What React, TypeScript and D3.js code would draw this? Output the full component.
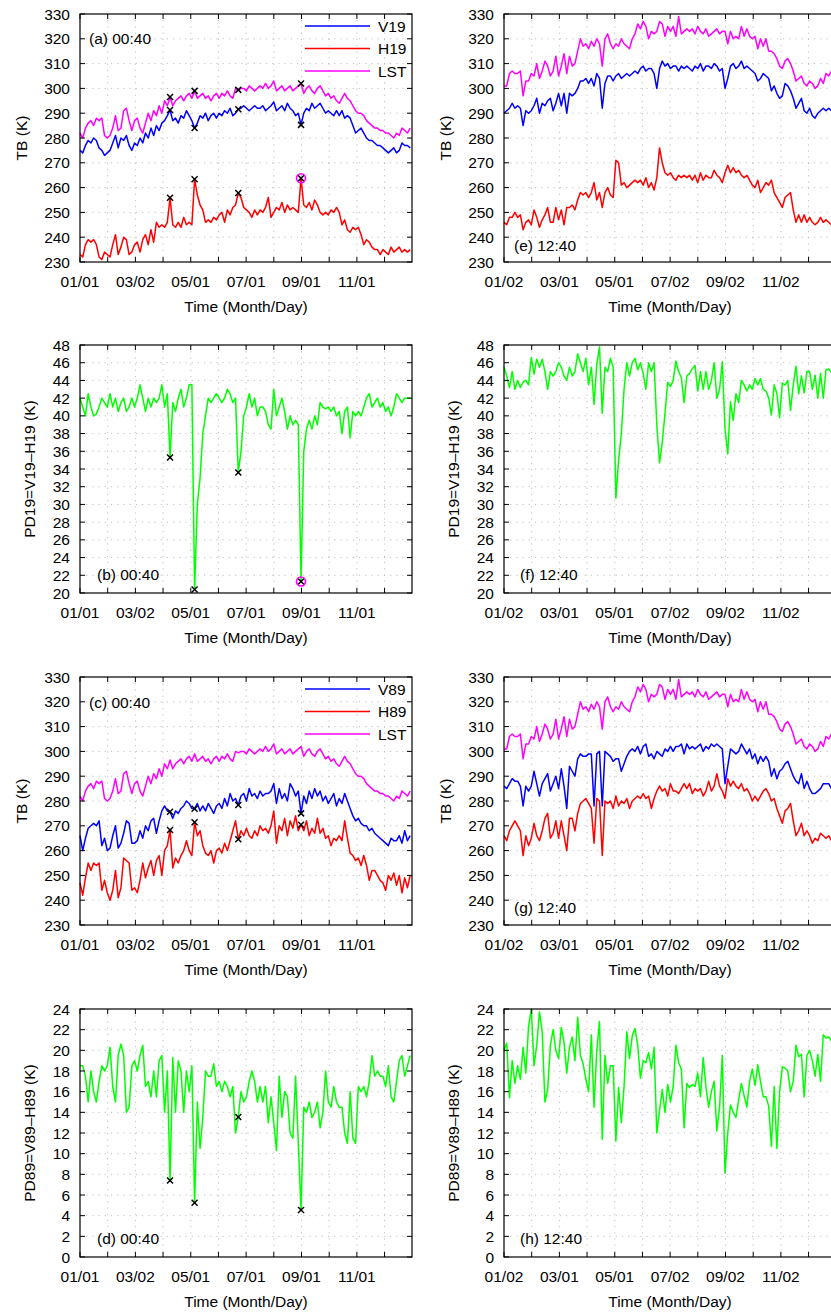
import React from 'react';
import * as d3 from 'd3';

// sampling: every third day of the year
const days = d3.range(0, 364, 3);
const eventDays = [99, 126, 174, 243];
const circleDay = 243;
const tickDays = d3.range(12).map(k => k * 30.44);
const xLabels0040 = ['01/01', '03/02', '05/01', '07/01', '09/01', '11/01'];
const xLabels1240 = ['01/02', '03/01', '05/01', '07/02', '09/02', '11/02'];
const tbTicks = d3.range(230, 331, 10);
const pd19Ticks = d3.range(20, 49, 2);
const pd89Ticks = d3.range(0, 25, 2);

// 00:40 overpass
const lst0040 = [
  282, 280, 284, 286, 287, 285, 288, 287, 288, 281,
  280, 281, 284, 289, 283, 284, 291, 292, 287, 283,
  287, 288, 284, 282, 286, 290, 287, 291, 289, 293,
  290, 295, 293, 296.5, 293, 295, 296, 297, 295, 297,
  298, 296, 299, 296, 297, 298, 296, 297, 295, 297,
  298, 296, 298, 297, 299, 297, 296, 300, 299.4, 300,
  300, 299, 301, 300, 299, 300, 301, 300, 302, 300,
  301, 303, 299, 300, 301, 299, 300, 301, 299, 300,
  301, 302, 298, 300, 301, 299, 298, 300, 301, 299,
  297, 298, 296, 297, 295, 294, 296, 298, 296, 295,
  293, 291, 290, 290, 289, 287, 286, 285, 284, 284,
  283, 283, 282, 282, 281, 280, 282, 281, 284, 283,
  282, 284,
];
const v19_0040 = [
  275, 274, 277, 279, 278, 280, 279, 276, 275, 273,
  274, 275, 278, 281, 276, 280, 279, 281, 277, 275,
  278, 277, 280, 278, 282, 280, 284, 281, 285, 283,
  286, 287, 289, 291.3, 287, 288, 286, 289, 288, 291,
  289, 287, 284, 286, 289, 288, 290, 287, 289, 290,
  288, 290, 289, 291, 290, 292, 289, 290, 291.6, 292,
  293, 292, 291, 292, 293, 292, 292, 293, 291, 292,
  293, 294.5, 291, 292, 293, 291, 294, 292, 291, 289,
  290, 285.3, 290, 292, 291, 294, 292, 293, 294, 292,
  290, 291, 290, 289, 291, 289, 291, 288, 289, 288,
  285, 282, 283, 284, 282, 280, 279, 279, 278, 277,
  277, 276, 275, 274, 275, 276, 274, 275, 278, 277,
  277, 276,
];
const h19_0040 = [
  233, 232, 237, 239, 238, 239, 237, 232, 231, 234,
  233, 232, 237, 241, 233, 236, 240, 239, 233, 234,
  237, 238, 234, 239, 241, 237, 243, 238, 246, 244,
  245, 244, 246, 255.9, 245, 244, 246, 244, 248, 245,
  246, 245, 263.4, 257, 253, 251, 246, 247, 246, 248,
  247, 249, 250, 246, 251, 249, 252, 253, 257.8, 256,
  252, 251, 250, 248, 251, 249, 251, 250, 252, 256,
  248, 250, 252, 251, 254, 250, 253, 251, 252, 251,
  250, 263.8, 253, 252, 254, 251, 255, 253, 250, 249,
  250, 249, 251, 250, 252, 250, 245, 247, 243, 242,
  244, 243, 244, 241, 237, 239, 238, 236, 235, 235,
  233, 235, 234, 233, 236, 234, 235, 236, 234, 235,
  234, 235,
];
const pd19_0040 = [
  42, 41, 40, 42.5, 41, 40, 40.2, 41, 42, 41.5,
  41, 42.5, 41, 42, 40.5, 41.5, 42, 40.5, 41, 42,
  41, 42, 43.5, 42, 40.5, 42, 41, 42, 41.5, 42,
  43.5, 41, 42.5, 35.3, 41.5, 40.5, 42, 43, 41, 42,
  43.5, 43.5, 20.4, 30, 33, 38, 40, 42, 41.5, 42,
  42.5, 42, 41.5, 42, 43, 42.5, 41.5, 42, 33.6, 36,
  40, 41, 42.5, 41, 42, 40, 41, 41, 40.5, 39,
  38.5, 43, 40, 41, 42, 40.5, 38.5, 40, 39, 39.5,
  39, 21.3, 36, 38.5, 39.5, 38.5, 40, 39, 41.5, 41,
  40.8, 41, 40.5, 41, 40, 40.5, 38, 40.5, 41, 37.5,
  40.5, 40, 40.5, 40, 41, 42, 42.5, 41, 41.5, 42,
  41, 41.5, 40.5, 41, 40, 41, 42.5, 42, 41.5, 42,
  42, 42,
];
const v89_0040 = [
  266, 260, 265, 269, 270, 271, 270, 272, 262, 265,
  260, 261, 266, 270, 261, 263, 267, 272, 271, 263,
  263, 264, 268, 265, 270, 268, 272, 273, 267, 272,
  276, 278, 276, 275.7, 273, 276, 275, 277, 278, 280,
  279, 277, 276.9, 279, 276, 278, 276, 279, 277, 275,
  278, 279, 277, 281, 278, 283, 280, 281, 278.4, 282,
  283, 280, 285, 282, 283, 281, 284, 282, 283, 283,
  284, 287, 279, 285, 281, 283, 280, 287, 285, 282,
  284, 275, 282, 279, 284, 281, 285, 282, 284, 280,
  282, 279, 281, 283, 278, 281, 279, 283, 280, 277,
  274, 272, 273, 271, 270, 270, 268, 269, 267, 266,
  265, 264, 263, 262, 265, 264, 264, 266, 263, 268,
  264, 266,
];
const h89_0040 = [
  247, 242, 249, 255, 252, 255, 254, 255, 244, 248,
  243, 240, 244, 252, 241, 245, 257, 256, 255, 244,
  245, 243, 248, 255, 249, 253, 256, 250, 256, 258,
  250, 260, 262, 268.3, 253, 257, 255, 258, 260, 264,
  260, 258, 271.4, 266, 268, 262, 259, 258, 260, 255,
  260, 261, 259, 263, 260, 264, 268, 272, 264.6, 268,
  266, 269, 266, 265, 268, 266, 270, 268, 269, 267,
  270, 276, 263, 270, 268, 273, 266, 272, 269, 274,
  268, 270.4, 268, 272, 266, 269, 267, 273, 267, 269,
  265, 266, 262, 265, 264, 266, 264, 272, 265, 259,
  258, 256, 257, 254, 258, 254, 248, 252, 252, 250,
  248, 247, 244, 250, 248, 251, 246, 250, 243, 249,
  245, 250,
];
const pd89_0040 = [
  18.5, 18.5, 17.5, 15, 18, 16, 15, 17, 18.5, 18,
  18.5, 20.3, 16.5, 15, 19.5, 20.6, 19.5, 14, 14.5, 18.5,
  19, 18, 19.5, 20.5, 16.5, 17, 15.5, 18, 15.5, 19,
  19.5, 14, 18, 7.4, 19.3, 14, 19, 18, 14, 18,
  16, 18.5, 5.25, 15, 10.5, 13.5, 18, 17.5, 17.5, 18.7,
  16.5, 17, 16, 17, 16.5, 15.5, 16.5, 12, 13.55, 16,
  15, 15.5, 17, 18, 17, 15, 16.5, 15, 16.5, 13,
  15.5, 13, 10.3, 17.5, 13.5, 16, 15.5, 12, 11.5, 17.5,
  11, 4.55, 14.5, 14, 15, 13.5, 14, 15, 12.5, 14,
  18, 15, 14.5, 16.5, 15, 14.5, 14.5, 12, 11, 16,
  11.5, 11, 16.5, 16, 16.5, 15.5, 17, 19.5, 17.5, 18,
  17.5, 17.5, 16.5, 18.5, 15.5, 15, 17, 19, 19.5, 17.5,
  18.5, 19.5,
];

// 12:40 overpass
const lst1240 = [
  301, 301, 306, 307, 306, 306, 307, 297, 303, 303,
  306, 305, 310, 304, 307, 311, 309, 305, 307, 313,
  305, 309, 314, 306, 313, 309, 310, 315, 320, 317,
  318, 316, 319, 317, 320, 318, 309, 320, 322, 318,
  316, 318, 317, 320, 318, 317, 316, 320, 322, 326,
  324, 327, 325, 320, 323, 322, 323, 327, 326, 321,
  325, 323, 325, 321, 329, 322, 323, 324, 323, 324,
  322, 325, 323, 322, 324, 321, 322, 323, 324, 322,
  323, 323, 318, 323, 320, 321, 320, 325, 321, 324,
  321, 320, 321, 316, 320, 317, 320, 315, 315, 314,
  312, 309, 308, 311, 312, 310, 307, 303, 304, 305,
  302, 301, 303, 302, 300, 301, 304, 302, 306, 305,
  307, 306,
];
const v19_1240 = [
  290, 291, 292, 294, 292, 293, 292, 285, 291, 290,
  291, 293, 296, 290, 294, 293, 295, 296, 291, 294,
  298, 293, 298, 290, 298, 297, 298, 300, 303, 303,
  304, 302, 304, 301, 306, 304, 292, 302, 305, 305,
  303, 305, 306, 304, 305, 306, 305, 306, 307, 306,
  308, 309, 307, 308, 308, 306, 300, 308, 311, 309,
  310, 308, 309, 309, 307, 309, 308, 309, 308, 307,
  309, 308, 310, 307, 309, 309, 308, 310, 309, 307,
  308, 300, 304, 309, 310, 308, 309, 311, 308, 309,
  308, 307, 306, 303, 304, 306, 305, 304, 299, 301,
  298, 296, 297, 302, 301, 299, 296, 292, 294, 296,
  291, 290, 292, 289, 288, 290, 291, 292, 291, 292,
  291, 291,
];
const h19_1240 = [
  246, 245, 248, 248, 250, 248, 249, 243, 246, 247,
  245, 251, 248, 244, 247, 249, 252, 246, 246, 252,
  247, 251, 245, 252, 252, 253, 251, 255, 258, 257,
  258, 256, 258, 262, 255, 258, 252, 258, 260, 257,
  256, 271, 270, 261, 262, 260, 261, 262, 263, 262,
  263, 261, 264, 260, 262, 259, 264, 276, 270, 266,
  265, 266, 264, 263, 265, 264, 265, 264, 265, 263,
  265, 262, 266, 263, 265, 264, 264, 267, 265, 264,
  262, 266, 269, 266, 268, 266, 267, 265, 264, 265,
  263, 261, 260, 263, 258, 260, 262, 261, 263, 258,
  256, 254, 252, 256, 257, 258, 251, 246, 249, 246,
  249, 246, 248, 246, 245, 246, 248, 246, 247, 246,
  245, 246,
];
const pd19_1240 = [
  45.5, 44.5, 43.2, 45, 43, 44, 43.2, 43.8, 44, 43.5,
  46.6, 44.7, 46.4, 45.5, 46.4, 45, 43, 45, 44.5, 45,
  46, 45.5, 44.5, 44, 45.5, 44.5, 45, 47, 46, 45,
  46.5, 43.5, 45.5, 41.3, 45.8, 47.8, 40.3, 45.5, 45, 46.5,
  45.5, 30.7, 35, 38, 43, 46, 44.5, 46, 46.5, 45.2,
  46, 44.8, 43, 46, 45, 46, 39, 34.7, 37, 40.3,
  43.8, 43.3, 44, 46.2, 45, 44.3, 41.5, 44.5, 44.8, 45.3,
  45.7, 42.8, 45, 43, 45, 43, 44, 46, 42, 43,
  46.1, 38.5, 35.7, 41.6, 39.5, 42.5, 41.5, 44, 43.5, 42.8,
  43.5, 43, 44.2, 43.5, 44.2, 43, 42.8, 42, 40.1, 43.5,
  42.5, 39.8, 43.7, 43.5, 44, 40.6, 43.5, 45.6, 42.5, 44.5,
  42.6, 45, 45, 43, 44.6, 42, 44.8, 42, 45.2, 45.3,
  44.9, 45,
];
const v89_1240 = [
  286, 285, 287, 289, 288, 288, 286, 278, 286, 284,
  286, 292, 287, 282, 287, 289, 291, 284, 287, 290,
  285, 293, 286, 277, 294, 292, 290, 297, 299, 298,
  298, 299, 299, 278, 299, 300, 278, 300, 299, 298,
  296, 297, 297, 292, 295, 298, 300, 301, 300, 302,
  299, 302, 303, 298, 299, 297, 300, 299, 298, 301,
  300, 302, 300, 302, 302, 303, 299, 303, 301, 302,
  301, 302, 303, 300, 302, 301, 303, 302, 303, 302,
  301, 287, 294, 301, 300, 299, 300, 303, 301, 299,
  301, 297, 299, 295, 298, 296, 298, 296, 290, 293,
  289, 292, 293, 295, 296, 293, 290, 288, 287, 291,
  285, 288, 285, 283, 283, 284, 285, 287, 287, 287,
  285, 286,
];
const h89_1240 = [
  266, 264, 268, 270, 272, 270, 268, 258, 266, 262,
  265, 271, 266, 264, 268, 273, 275, 265, 267, 272,
  265, 272, 266, 260, 273, 273, 268, 275, 279, 280,
  281, 279, 277, 263, 281, 280, 258, 280, 279, 280,
  277, 282, 278, 280, 279, 281, 277, 280, 281, 282,
  281, 283, 281, 282, 277, 281, 284, 286, 284, 285,
  282, 287, 284, 284, 283, 285, 287, 285, 287, 283,
  285, 284, 285, 282, 284, 288, 284, 286, 291, 286,
  284, 281, 289, 286, 288, 286, 285, 287, 284, 285,
  283, 280, 282, 280, 282, 284, 285, 283, 280, 281,
  277, 274, 271, 276, 277, 279, 272, 266, 268, 271,
  266, 268, 266, 263, 265, 264, 267, 266, 265, 266,
  264, 265,
];
const pd89_1240 = [
  20, 20.7, 15.4, 19, 16.8, 18.5, 17.2, 20.3, 17.8, 22.3,
  24, 18.5, 20.5, 23.7, 21.8, 15, 16.2, 20.5, 22, 20,
  19.2, 22.2, 20.8, 17.8, 20.3, 21.3, 19, 23.2, 19.5, 18.7,
  17.2, 16, 21.5, 14.5, 20, 22.8, 11.4, 19.5, 16.8, 18.5,
  18.5, 11.2, 16.4, 13, 16.5, 21.8, 19.2, 21.4, 22.1, 20.5,
  17.3, 19, 18.8, 19.8, 18.2, 20.3, 12, 14.2, 16.2, 14,
  16.7, 15, 16.5, 20.5, 18.8, 18.2, 12.5, 16.8, 16.4, 16.7,
  16.5, 17.8, 15.5, 19.3, 16.5, 14.5, 16, 17, 12.2, 14.5,
  19.5, 8.1, 12, 14.7, 14, 13.5, 15.2, 16.8, 15.6, 14.5,
  17, 18.2, 16.6, 18.6, 17, 15.5, 15.5, 14.6, 10.7, 16.5,
  10.5, 16, 18.4, 18.3, 18, 16, 17, 20.5, 19.4, 19.6,
  15.5, 19.5, 20, 19, 17.5, 19.6, 17, 21.5, 21.2, 21.3,
  20.9, 21,
];

const BLUE = '#0000ff';
const RED = '#ff0000';
const MAGENTA = '#ff00ff';
const GREEN = '#00ff00';
const FONT = '"Liberation Sans", Arial, Helvetica, sans-serif';
const PW = 332;
const PH = 248;

type Series = { values: number[]; color: string };
type PanelProps = {
  left: number;
  top: number;
  yDomain: [number, number];
  yTicks: number[];
  yTitle: string;
  yTitleX: number;
  series: Series[];
  crossed?: number[][];
  circled?: number[];
  legend?: { name: string; color: string }[];
  label: string;
  labelX: number;
  labelY: number;
  xLabels: string[];
};

const Panel: React.FC<PanelProps> = ({
  left, top, yDomain, yTicks, yTitle, yTitleX, series, crossed = [], circled,
  legend, label, labelX, labelY, xLabels,
}) => {
  const x = d3.scaleLinear().domain([0, 365]).range([left, left + PW]);
  const y = d3.scaleLinear().domain(yDomain).range([top + PH, top]);
  const line = d3.line<number>().x((_, i) => x(days[i])).y(d => y(d));
  const bottom = top + PH;
  const right = left + PW;
  const ci = days.indexOf(circleDay);

  return (
    <g fontFamily={FONT} fontSize={15.5} fill="#000">
      {/* grid */}
      {tickDays.slice(1).map((d, i) => (
        <line key={'gx' + i} x1={x(d)} x2={x(d)} y1={top} y2={bottom}
          stroke="#b8b8b8" strokeWidth={0.9} strokeDasharray="1.2,5" />
      ))}
      {yTicks.slice(1, -1).map(t => (
        <line key={'gy' + t} x1={left} x2={right} y1={y(t)} y2={y(t)}
          stroke="#b8b8b8" strokeWidth={0.9} strokeDasharray="1.2,5" />
      ))}

      {/* series */}
      {series.map((s, k) => (
        <path key={'s' + k} d={line(s.values) || ''} fill="none" stroke={s.color}
          strokeWidth={1.5} strokeLinejoin="round" />
      ))}

      {/* event markers */}
      {crossed.map((vals, k) =>
        eventDays.map(d => {
          const cx = x(d);
          const cy = y(vals[days.indexOf(d)]);
          return (
            <g key={'c' + k + '_' + d} stroke="#000" strokeWidth={1.5}>
              <line x1={cx - 3} x2={cx + 3} y1={cy - 3} y2={cy + 3} />
              <line x1={cx - 3} x2={cx + 3} y1={cy + 3} y2={cy - 3} />
            </g>
          );
        })
      )}
      {circled && (
        <circle cx={x(circleDay)} cy={y(circled[ci])} r={4.5} fill="none"
          stroke={MAGENTA} strokeWidth={1.6} />
      )}

      {/* frame */}
      <rect x={left} y={top} width={PW} height={PH} fill="none" stroke="#000" strokeWidth={1.2} />

      {/* x ticks */}
      {tickDays.map((d, i) => (
        <g key={'tx' + i} stroke="#000" strokeWidth={1}>
          <line x1={x(d)} x2={x(d)} y1={bottom} y2={bottom - 5} />
          <line x1={x(d)} x2={x(d)} y1={top} y2={top + 5} />
        </g>
      ))}
      {xLabels.map((lab, i) => (
        <text key={'lx' + i} x={x(tickDays[i * 2])} y={bottom + 25} textAnchor="middle">{lab}</text>
      ))}
      <text x={left + PW / 2} y={bottom + 50} textAnchor="middle">Time (Month/Day)</text>

      {/* y ticks */}
      {yTicks.map(t => (
        <g key={'ty' + t}>
          <line x1={left} x2={left + 5} y1={y(t)} y2={y(t)} stroke="#000" />
          <line x1={right} x2={right - 5} y1={y(t)} y2={y(t)} stroke="#000" />
          <text x={left - 10} y={y(t)} dy="0.36em" textAnchor="end">{t}</text>
        </g>
      ))}
      <text transform={`translate(${yTitleX},${top + PH / 2}) rotate(-90)`} dy="0.36em"
        textAnchor="middle">{yTitle}</text>

      {/* panel label */}
      <text x={labelX} y={labelY}>{label}</text>

      {/* legend */}
      {legend && legend.map((l, i) => (
        <g key={'lg' + i}>
          <line x1={left + 225} x2={left + 290} y1={top + 12 + i * 22.5} y2={top + 12 + i * 22.5}
            stroke={l.color} strokeWidth={1.5} />
          <text x={left + 298} y={top + 12 + i * 22.5} dy="0.36em">{l.name}</text>
        </g>
      ))}
    </g>
  );
};

const App: React.FC = () => (
  <svg width={831} height={1314} style={{ position: 'absolute', left: 0, top: 0, background: '#fff' }}>
    <Panel left={80} top={14} yDomain={[230, 330]} yTicks={tbTicks} yTitle="TB (K)" yTitleX={21}
      series={[{ values: lst0040, color: MAGENTA }, { values: v19_0040, color: BLUE }, { values: h19_0040, color: RED }]}
      crossed={[lst0040, v19_0040, h19_0040]} circled={h19_0040}
      legend={[{ name: 'V19', color: BLUE }, { name: 'H19', color: RED }, { name: 'LST', color: MAGENTA }]}
      label="(a) 00:40" labelX={89} labelY={44} xLabels={xLabels0040} />
    <Panel left={80} top={345} yDomain={[20, 48]} yTicks={pd19Ticks} yTitle="PD19=V19–H19 (K)" yTitleX={29}
      series={[{ values: pd19_0040, color: GREEN }]} crossed={[pd19_0040]} circled={pd19_0040}
      label="(b) 00:40" labelX={97} labelY={580} xLabels={xLabels0040} />
    <Panel left={80} top={677} yDomain={[230, 330]} yTicks={tbTicks} yTitle="TB (K)" yTitleX={21}
      series={[{ values: lst0040, color: MAGENTA }, { values: v89_0040, color: BLUE }, { values: h89_0040, color: RED }]}
      crossed={[v89_0040, h89_0040]}
      legend={[{ name: 'V89', color: BLUE }, { name: 'H89', color: RED }, { name: 'LST', color: MAGENTA }]}
      label="(c) 00:40" labelX={89} labelY={708} xLabels={xLabels0040} />
    <Panel left={80} top={1009} yDomain={[0, 24]} yTicks={pd89Ticks} yTitle="PD89=V89–H89 (K)" yTitleX={29}
      series={[{ values: pd89_0040, color: GREEN }]} crossed={[pd89_0040]}
      label="(d) 00:40" labelX={97} labelY={1244} xLabels={xLabels0040} />

    <Panel left={504} top={14} yDomain={[230, 330]} yTicks={tbTicks} yTitle="TB (K)" yTitleX={445}
      series={[{ values: lst1240, color: MAGENTA }, { values: v19_1240, color: BLUE }, { values: h19_1240, color: RED }]}
      label="(e) 12:40" labelX={514} labelY={251} xLabels={xLabels1240} />
    <Panel left={504} top={345} yDomain={[20, 48]} yTicks={pd19Ticks} yTitle="PD19=V19–H19 (K)" yTitleX={453}
      series={[{ values: pd19_1240, color: GREEN }]}
      label="(f) 12:40" labelX={520} labelY={580} xLabels={xLabels1240} />
    <Panel left={504} top={677} yDomain={[230, 330]} yTicks={tbTicks} yTitle="TB (K)" yTitleX={445}
      series={[{ values: lst1240, color: MAGENTA }, { values: v89_1240, color: BLUE }, { values: h89_1240, color: RED }]}
      label="(g) 12:40" labelX={514} labelY={913} xLabels={xLabels1240} />
    <Panel left={504} top={1009} yDomain={[0, 24]} yTicks={pd89Ticks} yTitle="PD89=V89–H89 (K)" yTitleX={453}
      series={[{ values: pd89_1240, color: GREEN }]}
      label="(h) 12:40" labelX={520} labelY={1244} xLabels={xLabels1240} />
  </svg>
);

export default App;
